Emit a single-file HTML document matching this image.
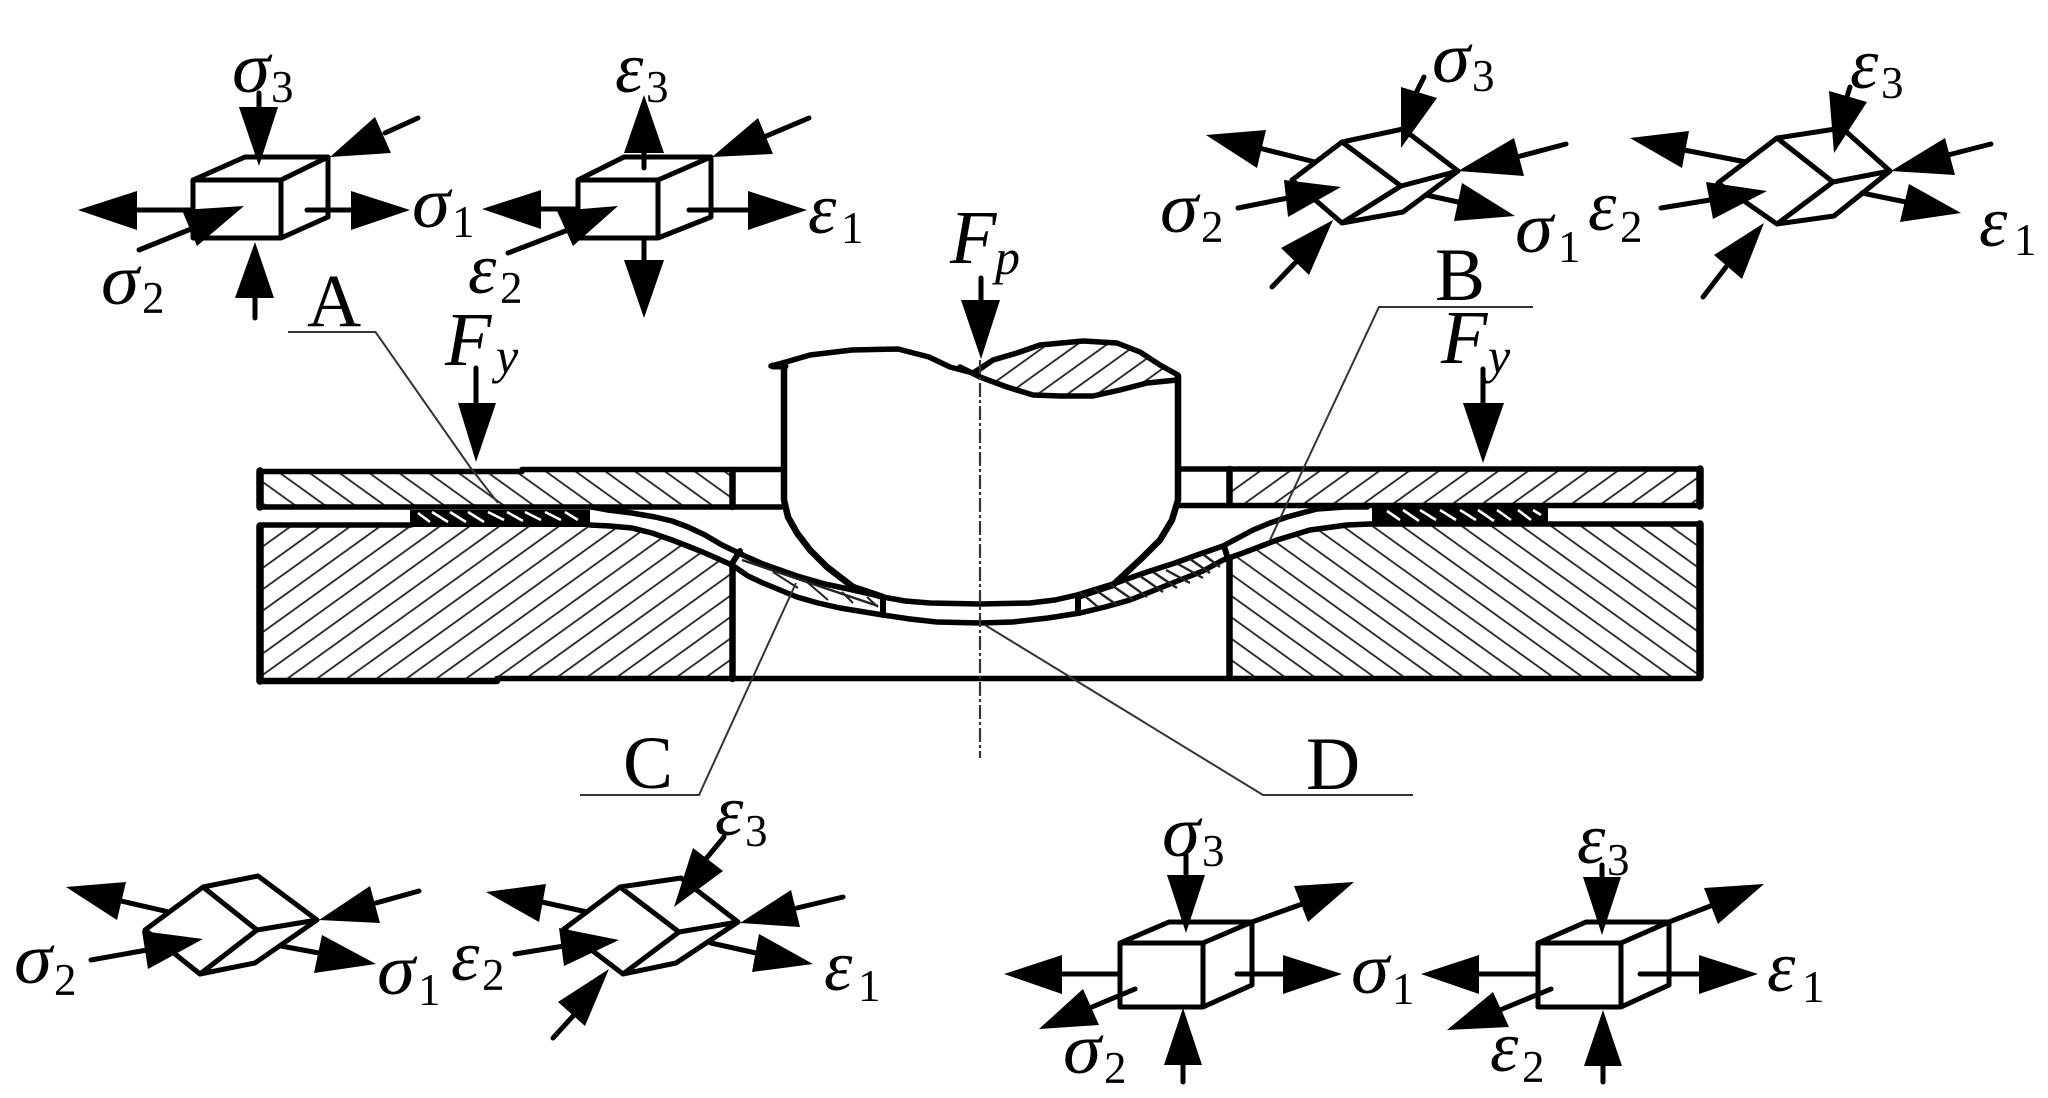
<!DOCTYPE html>
<html><head><meta charset="utf-8"><style>
html,body{margin:0;padding:0;background:#fff;width:2048px;height:1098px;overflow:hidden}
svg{display:block}
.l{stroke:#000;stroke-width:5;fill:none;stroke-linecap:round;stroke-linejoin:round}
.m{stroke:#000;stroke-width:5.5;fill:none;stroke-linecap:round;stroke-linejoin:round}
.b{stroke:#000;stroke-width:7.5;fill:none;stroke-linecap:round;stroke-linejoin:round}
.t{stroke:#333;stroke-width:2;fill:none}
.hh{stroke:#222;stroke-width:2;fill:none}
polygon{fill:#000}
text{font-family:"Liberation Serif",serif;fill:#000}
.g{font-size:72px;font-style:italic}
.s{font-size:45px}
.F{font-size:76px;font-style:italic}
.i{font-size:50px;font-style:italic}
.A{font-size:75px}
</style></head><body>
<svg width="2048" height="1098" viewBox="0 0 2048 1098" xmlns="http://www.w3.org/2000/svg">
<defs>
<pattern id="pa" width="17.38" height="17.38" patternUnits="userSpaceOnUse" patternTransform="rotate(54.3)"><line x1="6.2" y1="0" x2="6.2" y2="17.38" stroke="#222" stroke-width="1.8"/></pattern>
<pattern id="pb" width="17.38" height="17.38" patternUnits="userSpaceOnUse" patternTransform="rotate(54.3)"><line x1="5.5" y1="0" x2="5.5" y2="17.38" stroke="#222" stroke-width="1.8"/></pattern>
<pattern id="pc" width="17.38" height="17.38" patternUnits="userSpaceOnUse" patternTransform="rotate(-54.3)"><line x1="5.2" y1="0" x2="5.2" y2="17.38" stroke="#222" stroke-width="1.8"/></pattern>
<pattern id="pd" width="17.38" height="17.38" patternUnits="userSpaceOnUse" patternTransform="rotate(-54.3)"><line x1="8.7" y1="0" x2="8.7" y2="17.38" stroke="#222" stroke-width="1.8"/></pattern>
<pattern id="pe" width="17.38" height="17.38" patternUnits="userSpaceOnUse" patternTransform="rotate(54.3)"><line x1="4.5" y1="0" x2="4.5" y2="17.38" stroke="#222" stroke-width="1.8"/></pattern>
</defs>

<!-- hatches -->
<rect x="261" y="470" width="471" height="37" fill="url(#pc)"/>
<rect x="1229" y="470" width="471" height="36" fill="url(#pb)"/>
<polygon style="fill:url(#pa)" points="261,526 590,526 610,526 632,528 652,533 672,540 690,547 705,553 732,565 732,680 261,680"/>
<polygon style="fill:url(#pd)" points="1700,524 1370,524 1347,525 1310,530 1277,540 1243,553 1229,558 1229,678 1700,678"/>
<polygon style="fill:url(#pe)" points="973,373 993,360 1017,353 1040,345 1083,341 1117,343 1140,352 1160,365 1178,375 1177,380 1147,383 1120,390 1093,396 1060,396 1033,395 1007,387 980,377"/>

<!-- structure -->
<path class="m" d="M260,471.5H522M522,469.5H781M260,507H781M1179,469H1700M1179,505.5H1700"/>
<path class="m" d="M260,525H411M1700,524H1370"/>
<path class="b" style="stroke-width:6.5" d="M260,681H497"/>
<path class="m" d="M497,678.5H1700"/>
<path class="b" d="M260,471V507M260,526V681M1700,469V506M1700,524V677"/>
<path class="b" style="stroke-width:6.5" d="M732.5,470V507M732.5,565V679M1229.5,469V505M1229.5,558V677"/>
<path class="m" d="M771,366L786,362L810,355L852,350L898,349L929,357L950,367L973,373L993,360L1017,353L1040,345L1083,341L1117,343L1140,352L1160,365L1178,375"/>
<path class="m" d="M960,367L980,377L1007,387L1033,395L1060,396L1093,396L1120,390L1147,383L1177,380"/>
<path class="b" style="stroke-width:7" d="M773,366H785"/>
<path class="b" style="stroke-width:6.5" d="M784,363V500L788,517L797,533L810,550L827,567L853,587L883,597"/>
<path class="b" style="stroke-width:6.5" d="M1178,376V500L1172,520L1160,540L1143,557L1113,585L1080,596"/>
<polyline class="m" points="592,507 608,510 632,513 655,517 672,521 688,527 705,535 722,545 745,556 763,564 797,576 825,584 853,590 883,597 905,601 930,603 980,604 1030,603 1055,600 1077,595 1113,584 1147,572 1175,563 1197,555 1223,546 1253,530 1270,523 1287,517 1317,509 1345,507 1367,507"/>
<polyline class="m" points="590,525 610,526 632,528 652,533 672,540 690,547 705,553 732,565 748,576 763,583 797,597 818,603 840,608 883,615 910,619 937,622 980,623 1013,622 1048,618 1080,613 1105,607 1130,600 1155,590 1180,580 1203,571 1223,560 1243,553 1277,540 1310,530 1347,525 1370,524"/>
<path class="b" style="stroke-width:6" d="M740,551L731,565M883,598V615M1078,598V613M1224,546L1228,559"/>
<!-- blank hatch -->
<path class="hh" style="stroke-width:2.5" d="M742,560L878,606"/>
<path class="hh" d="M773,572L798,588M807,582L828,600M842,592L853,603M867,597L878,607"/>
<path class="hh" style="stroke-width:2.4" d="M1080,592L1098,607M1094,589L1117,605M1110,584L1133,600M1125,581L1147,597M1140,576L1163,592M1153,572L1177,588M1166,570L1190,583M1178,564L1203,578M1190,559L1210,573M1204,555L1220,567"/>

<!-- pads -->
<rect x="410" y="510" width="180" height="17" fill="#000"/>
<rect x="1372" y="507" width="176" height="18" fill="#000"/>
<g stroke="#fff" stroke-width="2.6">
<path d="M418,513L430,522M432,512L448,522M450,512L466,522M468,512L484,522M488,512L504,520M507,512L523,521M525,512L541,520M545,512L561,520M565,512L578,520"/>
<path d="M1387,511L1400,520M1403,510L1419,521M1420,510L1436,520M1440,510L1456,520M1460,510L1476,520M1478,510L1494,521M1497,510L1511,520M1518,510L1531,520M1533,510L1541,515"/>
</g>

<!-- leaders -->
<polyline class="t" points="288,332 375.5,332 470,467 498,503"/>
<polyline class="t" points="1533,307 1379,307 1306,463 1270,540"/>
<polyline class="t" points="580,795 699,795 796,583"/>
<polyline class="t" points="1413,795 1263,795 985,625"/>
<line x1="980" y1="360" x2="980" y2="758" stroke="#333" stroke-width="2.2" stroke-dasharray="14 3 3 3"/>

<!-- force arrows -->
<path class="l" d="M981,278V300M476,368V403M1483,369V403"/>
<polygon points="961,300 1000,300 981,359"/>
<polygon points="458,403 496,403 476,462"/>
<polygon points="1463,403 1504,403 1483,463"/>

<!-- cube 1 -->
<path class="l" d="M193,180H281V238H193ZM193,180L245,157H328L281,180M281,238L328,217V157"/>
<path class="l" d="M259,93V107M418,118L385,133M137,210H193M307,210H353M139,250L196,227M255,298V318"/>
<polygon points="239,107 278,107 259,166"/><polygon points="330,157 375,117 391,153"/>
<polygon points="78,210 137,191 137,230"/><polygon points="410,210 351,191 351,230"/>
<polygon points="244,206 182,210 197,246"/><polygon points="255,242 235,298 274,298"/>

<!-- cube 2 -->
<path class="l" d="M578,180H658V238H578ZM578,180L624,157H711L658,180M658,238L711,217V157"/>
<path class="l" d="M644,153V168M809,118L764,137M541,209H578M689,210H748M508,253L568,230M644,238V260"/>
<polygon points="644,95 624,153 664,153"/><polygon points="712,157 758,118 773,154"/>
<polygon points="482,209 541,190 541,229"/><polygon points="807,210 748,191 748,230"/>
<polygon points="618,206 557,211 573,246"/><polygon points="624,260 664,260 644,318"/>

<!-- cube 3 -->
<path class="l" d="M1342,142L1403,129L1458,171L1401,186ZM1401,186L1342,223L1292,180L1342,142M1342,223L1403,212L1458,171"/>
<path class="l" d="M1424,77L1416,93M1259,148L1315,162M1566,144L1517,157M1426,195L1458,202M1238,208L1288,198M1272,287L1295,263"/>
<polygon points="1401,148 1401,87 1437,98"/><polygon points="1206,135 1266,130 1257,168"/>
<polygon points="1458,171 1514,138 1524,176"/><polygon points="1515,216 1462,183 1454,221"/>
<polygon points="1341,187 1284,180 1288,217"/><polygon points="1333,220 1281,248 1309,275"/>

<!-- cube 4 -->
<path class="l" d="M1777,138L1842,128L1890,171L1833,182ZM1833,182L1777,224L1718,183L1777,138M1777,224L1834,216L1890,171"/>
<path class="l" d="M1850,87L1846,100M1684,150L1746,162M1991,144L1948,155M1862,193L1906,202M1661,208L1710,200M1703,297L1726,267"/>
<polygon points="1834,153 1829,91 1867,102"/><polygon points="1630,138 1689,131 1682,168"/>
<polygon points="1891,171 1945,138 1955,175"/><polygon points="1961,213 1909,184 1900,222"/>
<polygon points="1767,191 1706,182 1713,219"/><polygon points="1764,223 1714,255 1742,279"/>

<!-- cube 5 -->
<path class="l" d="M203,887L258,876L317,920L257,930ZM257,930L200,974L145,930L203,887M200,974L255,963L317,920"/>
<path class="l" d="M121,901L169,912M419,891L376,903M281,946L319,953M91,960L147,950"/>
<polygon points="66,887 126,882 117,920"/><polygon points="319,920 370,886 380,923"/>
<polygon points="376,964 322,935 314,973"/><polygon points="203,939 142,931 148,969"/>

<!-- cube 6 -->
<path class="l" d="M620,887L681,878L738,922L679,932ZM679,932L623,974L564,929L620,887M623,974L676,963L738,922"/>
<path class="l" d="M724,837L705,860M542,902L587,912M843,897L797,908M711,943L756,953M515,954L564,946M553,1038L574,1015"/>
<polygon points="674,907 693,848 723,871"/><polygon points="486,892 546,884 539,922"/>
<polygon points="740,923 791,890 800,927"/><polygon points="813,964 759,934 752,972"/>
<polygon points="619,940 559,928 564,966"/><polygon points="609,969 558,1002 585,1026"/>

<!-- cube 7 -->
<path class="l" d="M1120,943H1203V1007H1120ZM1120,943L1169,922H1252L1203,943M1203,1007L1252,985V922"/>
<path class="l" d="M1186,855V875M1252,922L1305,903M1062,974H1119M1237,974H1283M1135,989L1092,1007M1183,1065V1082"/>
<polygon points="1167,875 1205,875 1186,933"/><polygon points="1354,882 1294,886 1308,922"/>
<polygon points="1004,974 1062,955 1062,994"/><polygon points="1342,974 1283,955 1283,994"/>
<polygon points="1039,1029 1083,989 1099,1025"/><polygon points="1183,1008 1164,1065 1202,1065"/>

<!-- cube 8 -->
<path class="l" d="M1538,943H1621V1007H1538ZM1538,943L1586,922H1669L1621,943M1621,1007L1669,985V922"/>
<path class="l" d="M1602,865V877M1669,922L1713,905M1479,974H1536M1640,974H1699M1551,989L1500,1010M1603,1066V1082"/>
<polygon points="1583,877 1621,877 1602,935"/><polygon points="1764,884 1704,888 1718,924"/>
<polygon points="1421,974 1479,955 1479,994"/><polygon points="1758,974 1699,955 1699,994"/>
<polygon points="1447,1030 1493,992 1509,1027"/><polygon points="1603,1010 1584,1066 1622,1066"/>

<!-- labels -->
<text class="A" x="307" y="326">A</text>
<text class="A" x="1435" y="300">B</text>
<text class="A" x="623" y="788">C</text>
<text class="A" x="1306" y="789">D</text>
<text class="F" x="950" y="263">F</text><text class="i" x="995" y="274">p</text>
<text class="F" x="445" y="365">F</text><text class="i" x="496" y="373">y</text>
<text class="F" x="1441" y="363">F</text><text class="i" x="1488" y="373">y</text>

<text class="g" x="232" y="92" textLength="38" lengthAdjust="spacingAndGlyphs">σ</text><text class="s" x="271" y="102">3</text>
<text class="g" x="412" y="227" textLength="38" lengthAdjust="spacingAndGlyphs">σ</text><text class="s" x="452" y="237">1</text>
<text class="g" x="101" y="304" textLength="38" lengthAdjust="spacingAndGlyphs">σ</text><text class="s" x="142" y="313">2</text>
<text class="g" x="615" y="92">ε</text><text class="s" x="646" y="102">3</text>
<text class="g" x="808" y="233">ε</text><text class="s" x="841" y="243">1</text>
<text class="g" x="468" y="293">ε</text><text class="s" x="500" y="303">2</text>

<text class="g" x="1432" y="82" textLength="38" lengthAdjust="spacingAndGlyphs">σ</text><text class="s" x="1472" y="91">3</text>
<text class="g" x="1160" y="232" textLength="38" lengthAdjust="spacingAndGlyphs">σ</text><text class="s" x="1201" y="242">2</text>
<text class="g" x="1515" y="252" textLength="38" lengthAdjust="spacingAndGlyphs">σ</text><text class="s" x="1558" y="262">1</text>
<text class="g" x="1588" y="230">ε</text><text class="s" x="1620" y="242">2</text>
<text class="g" x="1850" y="88">ε</text><text class="s" x="1881" y="98">3</text>
<text class="g" x="1979" y="246">ε</text><text class="s" x="2014" y="255">1</text>

<text class="g" x="14" y="983" textLength="38" lengthAdjust="spacingAndGlyphs">σ</text><text class="s" x="54" y="995">2</text>
<text class="g" x="377" y="994" textLength="38" lengthAdjust="spacingAndGlyphs">σ</text><text class="s" x="418" y="1005">1</text>
<text class="g" x="451" y="980">ε</text><text class="s" x="482" y="990">2</text>
<text class="g" x="715" y="835">ε</text><text class="s" x="745" y="846">3</text>
<text class="g" x="824" y="990">ε</text><text class="s" x="858" y="1001">1</text>

<text class="g" x="1162" y="856" textLength="38" lengthAdjust="spacingAndGlyphs">σ</text><text class="s" x="1202" y="866">3</text>
<text class="g" x="1351" y="993" textLength="38" lengthAdjust="spacingAndGlyphs">σ</text><text class="s" x="1392" y="1004">1</text>
<text class="g" x="1063" y="1073" textLength="38" lengthAdjust="spacingAndGlyphs">σ</text><text class="s" x="1104" y="1083">2</text>
<text class="g" x="1577" y="863">ε</text><text class="s" x="1607" y="875">3</text>
<text class="g" x="1767" y="991">ε</text><text class="s" x="1802" y="1002">1</text>
<text class="g" x="1490" y="1071">ε</text><text class="s" x="1522" y="1082">2</text>
</svg>
</body></html>
